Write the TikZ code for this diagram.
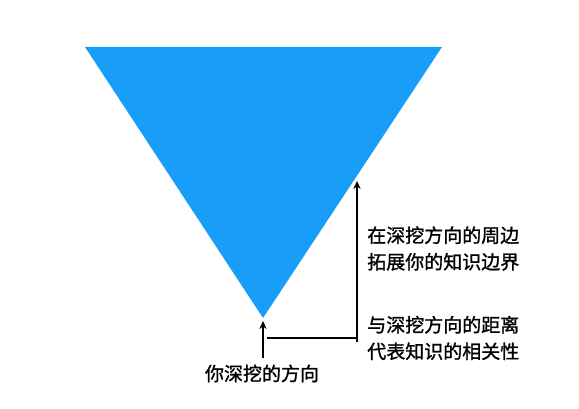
\documentclass[tikz,border=0pt]{standalone}
\usepackage{fontspec}
\newfontfamily\cjk{Noto Sans CJK SC}[FakeBold=1.2]
\usetikzlibrary{arrows.meta}
\definecolor{digblue}{RGB}{24,157,248}
\tikzset{
	note/.style={font=\cjk\fontsize{14.25}{19.9}\selectfont, inner sep=0pt, align=left},
	guide/.style={line width=1.5pt, -{Stealth[length=6pt,width=5.5pt]}}
}

\begin{document}
\begin{tikzpicture}[x=0.75pt, y=-0.75pt]
		%%%%% START %%%%%
		\useasboundingbox (0, 0) rectangle (579, 409);
		
		% the cone of knowledge
		\fill[digblue] (85, 47) -- (442, 47) -- (263, 318) -- cycle;
		\coordinate (apex) at (263, 321);
		
		% labels
		\node[note, anchor=west] (around) at (367, 248.5) {在深挖方向的周边\\拓展你的知识边界};
		\node[note, anchor=west] (distance) at (367, 338) {与深挖方向的距离\\代表知识的相关性};
		\node[note] (dig) at (262, 373.5) {你深挖的方向};
		
		% arrows
		\coordinate (start) at (267, 338);
		\coordinate (corner) at (357, 338);
		\coordinate (edge) at (357, 181);
		\draw[guide] ([yshift=4.5pt]dig.north -| apex) -- (apex);
		\draw[line width=1.5pt] (start) -- (corner);
		\draw[guide] ([yshift=-3pt]corner) -- (edge);
		
		%%%%% END %%%%%
	\end{tikzpicture}
\end{document}
